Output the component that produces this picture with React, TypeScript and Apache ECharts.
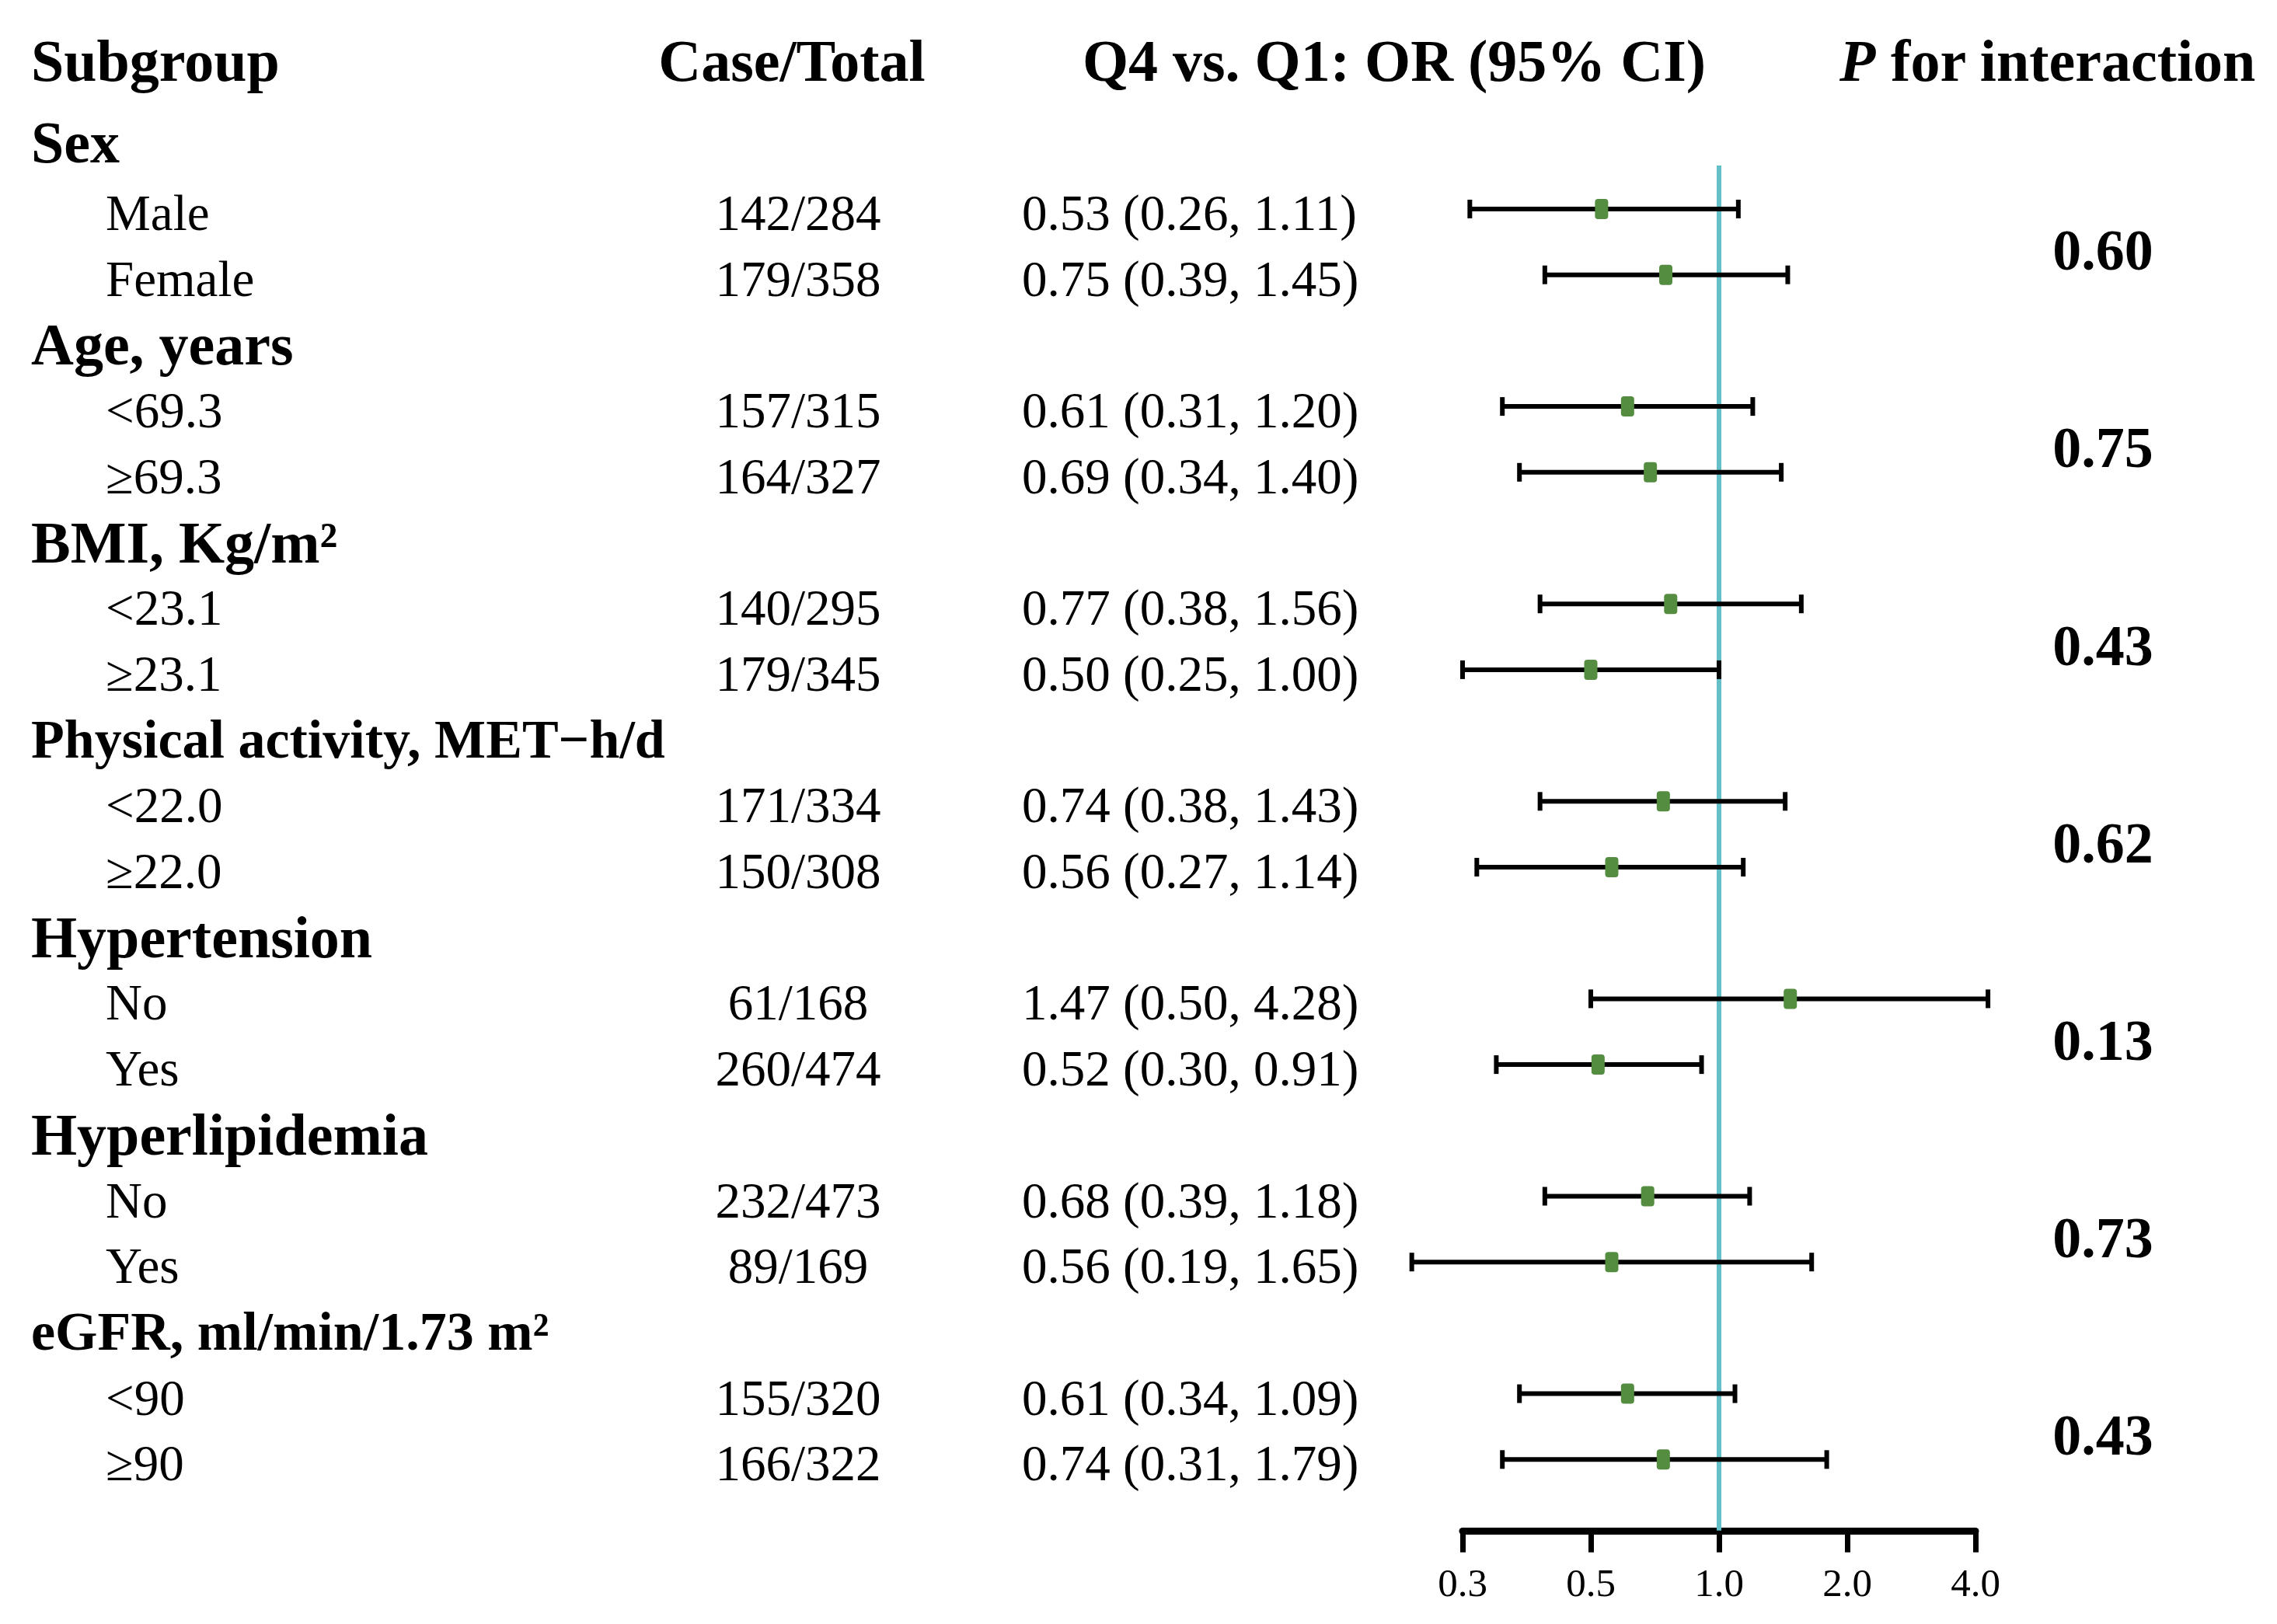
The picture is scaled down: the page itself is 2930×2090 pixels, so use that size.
import React, { useEffect, useRef } from "react";
import * as echarts from "echarts";

// ---------- data ----------
const headerLabels = ["Subgroup", "Case/Total", "Q4 vs. Q1: OR (95% CI)", "P for interaction"];

const subgroupLabels = [
  "Sex", "Male", "Female",
  "Age, years", "<69.3", "≥69.3",
  "BMI, Kg/m²", "<23.1", "≥23.1",
  "Physical activity, MET−h/d", "<22.0", "≥22.0",
  "Hypertension", "No", "Yes",
  "Hyperlipidemia", "No", "Yes",
  "eGFR, ml/min/1.73 m²", "<90", "≥90",
];

const isGroupRow = [
  true, false, false, true, false, false, true, false, false, true, false, false,
  true, false, false, true, false, false, true, false, false,
];

const caseTotal = [
  "", "142/284", "179/358",
  "", "157/315", "164/327",
  "", "140/295", "179/345",
  "", "171/334", "150/308",
  "", "61/168", "260/474",
  "", "232/473", "89/169",
  "", "155/320", "166/322",
];

const orValues = [null, 0.53, 0.75, null, 0.61, 0.69, null, 0.77, 0.50, null, 0.74, 0.56, null, 1.47, 0.52, null, 0.68, 0.56, null, 0.61, 0.74];
const ciLower = [null, 0.26, 0.39, null, 0.31, 0.34, null, 0.38, 0.25, null, 0.38, 0.27, null, 0.50, 0.30, null, 0.39, 0.19, null, 0.34, 0.31];
const ciUpper = [null, 1.11, 1.45, null, 1.20, 1.40, null, 1.56, 1.00, null, 1.43, 1.14, null, 4.28, 0.91, null, 1.18, 1.65, null, 1.09, 1.79];

const pInteractionRows = [1.5, 4.5, 7.5, 10.5, 13.5, 16.5, 19.5];
const pInteractionValues = ["0.60", "0.75", "0.43", "0.62", "0.13", "0.73", "0.43"];

const xAxisMin = 0.25;
const xAxisMax = 4;
const referenceValue = 1;

// ---------- layout ----------
const W = 2930;
const H = 2090;
const ROW_H = 84.7;
const Y0 = 184.3;
const Y_MIN = -2;
const Y_MAX = 21.08;
const HEADER_ROW = -1.255;
const REF_TOP_ROW = 0.34;
const PLOT_LEFT = 1882;
const PLOT_RIGHT = 2542;

const GROUP_X = 40;
const SUB_X = 136;
const CASE_X = 1027;
const CASE_HEAD_X = 1019;
const OR_X = 1315;
const OR_HEAD_X = 1794;
const P_X = 2706;
const P_HEAD_X = 2635;

const FONT = '"Liberation Serif", "Times New Roman", Times, serif';
const BOLD = 76;
const BODY = 65;
const PFONT = 74;
const TEXT_DY = 5;
const P_DY = 11;
const labelSizeOverride: Record<number, number> = { 9: 70, 18: 70 };
const labelDyOverride: Record<number, number> = { 0: -6 };

const GREEN = "#548C40";
const CYAN = "#64BFC8";

function fmt(v: number) {
  return v.toFixed(2);
}

function txt(x: number, y: number, text: string, size: number, bold: boolean, align: string, extra: any = {}) {
  return {
    type: "text",
    x,
    y,
    style: {
      text,
      fill: "#000",
      fontFamily: FONT,
      fontSize: size,
      fontWeight: bold ? "bold" : "normal",
      align,
      verticalAlign: "middle",
      textAlign: align,
      textVerticalAlign: "middle",
      ...extra,
    },
  };
}

export default function App() {
  const ref = useRef<HTMLDivElement>(null);

  useEffect(() => {
    if (!ref.current) return;
    const chart = echarts.init(ref.current, null, { renderer: "svg", width: W, height: H });

    const forestData: number[][] = [];
    orValues.forEach((v, i) => {
      if (v != null) forestData.push([i, v as number, ciLower[i] as number, ciUpper[i] as number]);
    });

    const rowData = subgroupLabels.map((_, i) => [i, 1]);
    const pData = pInteractionRows.map((r, i) => [r, 1, i]);

    const option: any = {
      animation: false,
      backgroundColor: "#ffffff",
      grid: {
        left: PLOT_LEFT,
        right: W - PLOT_RIGHT,
        top: Y0 + Y_MIN * ROW_H,
        bottom: H - (Y0 + Y_MAX * ROW_H),
        containLabel: false,
      },
      xAxis: {
        type: "log",
        logBase: 2,
        min: xAxisMin,
        max: xAxisMax,
        position: "bottom",
        axisLine: { show: true, onZero: false, lineStyle: { color: "#000", width: 9 } },
        axisTick: { show: true, inside: false, length: 28, lineStyle: { color: "#000", width: 7 } },
        axisLabel: {
          color: "#000",
          fontFamily: FONT,
          fontSize: 51,
          margin: 42,
          formatter: (v: number) => v.toFixed(1),
        },
        splitLine: { show: false },
      },
      yAxis: {
        type: "value",
        inverse: true,
        min: Y_MIN,
        max: Y_MAX,
        show: false,
      },
      series: [
        {
          type: "line",
          data: [
            [referenceValue, REF_TOP_ROW],
            [referenceValue, Y_MAX],
          ],
          symbol: "none",
          lineStyle: { color: CYAN, width: 6 },
          z: 1,
          silent: true,
        },
        {
          type: "custom",
          z: 3,
          clip: false,
          data: forestData,
          encode: { x: 1, y: 0 },
          renderItem: (_p: any, api: any) => {
            const row = api.value(0);
            const pOr = api.coord([api.value(1), row]);
            const pLo = api.coord([api.value(2), row]);
            const pHi = api.coord([api.value(3), row]);
            const y = pOr[1];
            const ls = { stroke: "#000", lineWidth: 6 };
            return {
              type: "group",
              children: [
                { type: "line", shape: { x1: pLo[0], y1: y, x2: pHi[0], y2: y }, style: ls },
                { type: "line", shape: { x1: pLo[0], y1: y - 12, x2: pLo[0], y2: y + 12 }, style: ls },
                { type: "line", shape: { x1: pHi[0], y1: y - 12, x2: pHi[0], y2: y + 12 }, style: ls },
                {
                  type: "rect",
                  shape: { x: pOr[0] - 8.5, y: y - 13, width: 17, height: 26, r: 4 },
                  style: { fill: GREEN },
                },
              ],
            };
          },
        },
        {
          type: "custom",
          z: 4,
          clip: false,
          silent: true,
          data: rowData,
          encode: { x: 1, y: 0 },
          renderItem: (p: any, api: any) => {
            const i = p.dataIndex;
            const row = api.value(0);
            const y = api.coord([1, row])[1] + TEXT_DY + (labelDyOverride[i] || 0);
            const children: any[] = [];
            if (isGroupRow[i]) {
              children.push(txt(GROUP_X, y, subgroupLabels[i], labelSizeOverride[i] || BOLD, true, "left"));
            } else {
              children.push(txt(SUB_X, y, subgroupLabels[i], BODY, false, "left"));
              children.push(txt(CASE_X, y, caseTotal[i], BODY, false, "center"));
              const o = orValues[i] as number;
              const lo = ciLower[i] as number;
              const hi = ciUpper[i] as number;
              children.push(txt(OR_X, y, `${fmt(o)} (${fmt(lo)}, ${fmt(hi)})`, BODY, false, "left"));
            }
            return { type: "group", children };
          },
        },
        {
          type: "custom",
          z: 4,
          clip: false,
          silent: true,
          data: pData,
          encode: { x: 1, y: 0 },
          renderItem: (_p: any, api: any) => {
            const row = api.value(0);
            const idx = api.value(2);
            const y = api.coord([1, row])[1] + P_DY;
            return txt(P_X, y, pInteractionValues[idx], PFONT, true, "center");
          },
        },
        {
          type: "custom",
          z: 4,
          clip: false,
          silent: true,
          data: [[HEADER_ROW, 1]],
          encode: { x: 1, y: 0 },
          renderItem: (_p: any, api: any) => {
            const y = api.coord([1, api.value(0)])[1];
            return {
              type: "group",
              children: [
                txt(GROUP_X, y, headerLabels[0], BOLD, true, "left"),
                txt(CASE_HEAD_X, y, headerLabels[1], BOLD, true, "center"),
                txt(OR_HEAD_X, y, headerLabels[2], BOLD, true, "center"),
                txt(P_HEAD_X, y, "{i|P}" + headerLabels[3].slice(1), BOLD, true, "center", {
                  rich: {
                    i: {
                      fontFamily: FONT,
                      fontSize: BOLD,
                      fontWeight: "bold",
                      fontStyle: "italic",
                      fill: "#000",
                    },
                  },
                }),
              ],
            };
          },
        },
      ],
    };

    chart.setOption(option);
    return () => chart.dispose();
  }, []);

  return (
    <div
      ref={ref}
      style={{ position: "fixed", left: 0, top: 0, width: W + "px", height: H + "px", background: "#fff" }}
    />
  );
}
